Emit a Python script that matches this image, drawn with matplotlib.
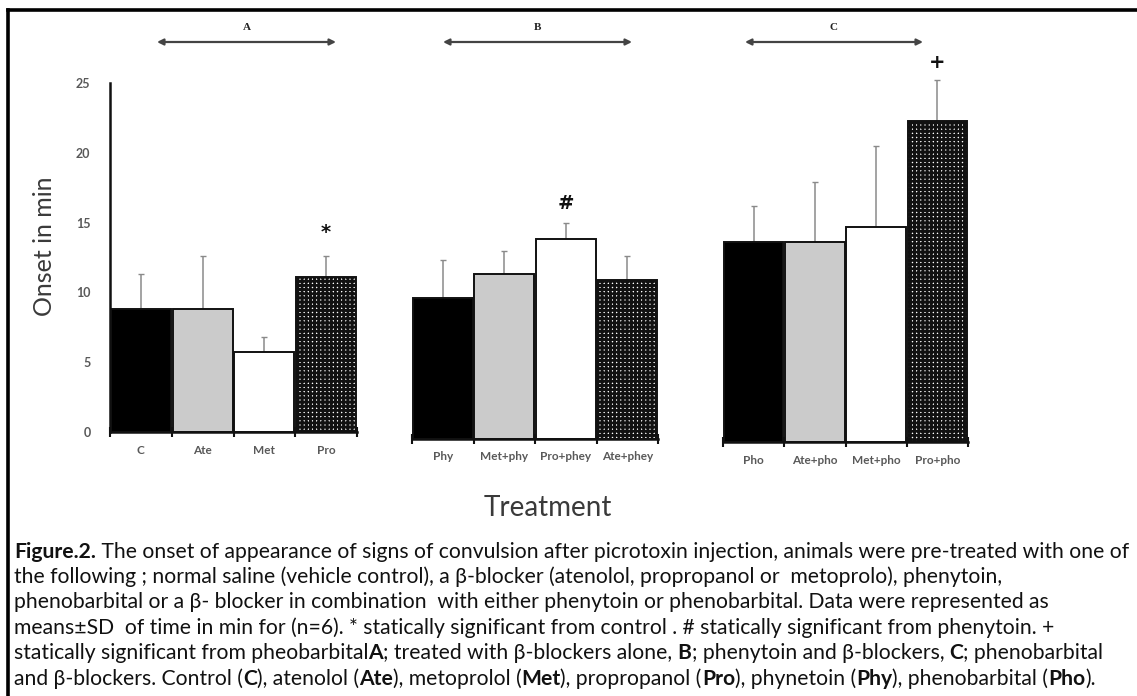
import numpy as np
import matplotlib
matplotlib.use("Agg")
import matplotlib.pyplot as plt
from matplotlib.lines import Line2D
from matplotlib.font_manager import FontProperties

W, H = 1137, 696

# group A: beta-blockers alone
labels_a = ["C", "Ate", "Met", "Pro"]
mean_a = [8.8, 8.8, 5.7, 11.1]
sd_a = [2.5, 3.8, 1.1, 1.5]

# group B: phenytoin + beta-blockers
labels_b = ["Phy", "Met+phy", "Pro+phey", "Ate+phey"]
mean_b = [10.1, 11.8, 14.3, 11.4]
sd_b = [2.7, 1.7, 1.2, 1.7]

# group C: phenobarbital + beta-blockers
labels_c = ["Pho", "Ate+pho", "Met+pho", "Pro+pho"]
mean_c = [14.3, 14.3, 15.4, 23.0]
sd_c = [2.6, 4.3, 5.8, 2.9]

# significance marks (symbol, group, bar index, height)
marks = [("*", 0, 3, 14.3), ("#", 1, 2, 16.9), ("+", 2, 3, 27.2)]

fills = ["#000000", "#cbcbcb", "#ffffff", "#ffffff"]
hatches = [None, None, None, "++++"]
gray_txt = "#595959"
fam = ["Lato", "DejaVu Sans"]

plt.rcParams["hatch.linewidth"] = 2.0

fig = plt.figure(figsize=(W / 100, H / 100), dpi=100)


def px_axes(left, base, width, height=349):
    return fig.add_axes([left / W, (H - base) / H, width / W, height / H])


def draw_group(ax, labels, means, sds, show_y=False):
    x = np.arange(len(labels))
    ax.bar(x, means, width=0.97, color=fills, edgecolor="#111111",
           linewidth=1.4, hatch=hatches, zorder=2)
    ax.errorbar(x, means, yerr=[np.zeros(len(sds)), sds], fmt="none",
                ecolor="#8a8a8a", elinewidth=1.1, capsize=2, capthick=1,
                zorder=1, clip_on=False)
    ax.set_xlim(-0.5, len(labels) - 0.5)
    ax.set_ylim(0, 25)
    ax.set_xticks(np.arange(len(labels) + 1) - 0.5)
    ax.set_xticklabels([])
    ax.tick_params(axis="x", which="major", direction="inout", length=7,
                   width=1.5, color="#111111")
    ax.set_xticks(x, minor=True)
    ax.set_xticklabels(labels, minor=True, fontsize=8.5, fontweight="bold",
                       color=gray_txt, family=fam)
    ax.tick_params(axis="x", which="minor", length=0, pad=9)
    for s in ["top", "right"]:
        ax.spines[s].set_visible(False)
    ax.spines["bottom"].set_linewidth(1.8)
    ax.spines["bottom"].set_color("#111111")
    if show_y:
        ax.spines["left"].set_linewidth(1.8)
        ax.spines["left"].set_color("#111111")
        ax.set_yticks([0, 5, 10, 15, 20, 25])
        ax.tick_params(axis="y", length=0, pad=14, labelsize=9,
                       labelcolor=gray_txt)
        for t in ax.get_yticklabels():
            t.set_fontweight("bold")
            t.set_family(fam)
    else:
        ax.spines["left"].set_visible(False)
        ax.set_yticks([])
    ax.patch.set_alpha(0)


ax_a = px_axes(110, 432, 247)
ax_b = px_axes(412, 439, 246)
ax_c = px_axes(723, 442, 245)
axes = [ax_a, ax_b, ax_c]

draw_group(ax_a, labels_a, mean_a, sd_a, show_y=True)
draw_group(ax_b, labels_b, mean_b, sd_b)
draw_group(ax_c, labels_c, mean_c, sd_c)

for sym, g, i, yv in marks:
    axes[g].text(i, yv, sym, ha="center", va="center", fontsize=14,
                 fontweight="bold", color="#111111", clip_on=False)

# group arrows
arrows = [("A", 157, 336), ("B", 443, 632), ("C", 745, 923)]
for name, x0, x1 in arrows:
    fig.add_artist(plt.Annotation("", xy=(x1, H - 42), xytext=(x0, H - 42),
                                  xycoords="figure pixels",
                                  textcoords="figure pixels",
                                  arrowprops=dict(arrowstyle="<|-|>",
                                                  color="#444444", lw=1.6,
                                                  mutation_scale=9,
                                                  shrinkA=0, shrinkB=0)))
    fig.text((x0 + x1) / 2 / W, 1 - 27 / H, name, ha="center", va="center",
             fontsize=8, fontweight="bold", family="Liberation Serif",
             color="#222222")

fig.text(44 / W, 1 - 246 / H, "Onset in min", rotation=90, ha="center",
         va="center", fontsize=18, color="#3a3a3a", family=fam)
fig.text(548 / W, 1 - 508 / H, "Treatment", ha="center", va="center",
         fontsize=20, color="#3a3a3a", family=fam)

# frame lines
fig.add_artist(Line2D([8 / W, 1], [1 - 10 / H, 1 - 10 / H],
                      transform=fig.transFigure, color="black", lw=2.6))
fig.add_artist(Line2D([8 / W, 8 / W], [0, 1 - 10 / H],
                      transform=fig.transFigure, color="black", lw=2.6))

# caption
caption = [
    [("Figure.2.", True), (" The onset of appearance of signs of convulsion after picrotoxin injection, animals were pre-treated with one of", False)],
    [("the following ; normal saline (vehicle control), a \u03b2-blocker (atenolol, propropanol or  metoprolo), phenytoin,", False)],
    [("phenobarbital or a \u03b2- blocker in combination  with either phenytoin or phenobarbital. Data were represented as", False)],
    [("means\u00b1SD  of time in min for (n=6). * statically significant from control . # statically significant from phenytoin. +", False)],
    [("statically significant from pheobarbital", False), ("A", True), ("; treated with \u03b2-blockers alone, ", False), ("B", True),
     ("; phenytoin and \u03b2-blockers, ", False), ("C", True), ("; phenobarbital", False)],
    [("and \u03b2-blockers. Control (", False), ("C", True), ("), atenolol (", False), ("Ate", True), ("), metoprolol (", False),
     ("Met", True), ("), propropanol (", False), ("Pro", True), ("), phynetoin (", False), ("Phy", True),
     ("), phenobarbital (", False), ("Pho", True), (").", False)],
]
cap_y = [552, 577, 602, 628, 653, 679]

renderer = fig.canvas.get_renderer()


def text_w(s, size, bold):
    fp = FontProperties(family=fam, size=size,
                        weight="bold" if bold else "normal")
    w1 = renderer.get_text_width_height_descent("|" + s + "|", fp, ismath=False)[0]
    w0 = renderer.get_text_width_height_descent("||", fp, ismath=False)[0]
    return w1 - w0


size0 = 12
line1 = sum(text_w(s, size0, b) for s, b in caption[0])
cap_size = size0 * 1108 / line1

for parts, yy in zip(caption, cap_y):
    xx = 14
    for s, b in parts:
        fig.text(xx / W, 1 - yy / H, s, ha="left", va="center",
                 fontsize=cap_size, fontweight="bold" if b else "normal",
                 family=fam, color="#111111")
        xx += text_w(s, cap_size, b)

fig.savefig("out.png", dpi=100)
